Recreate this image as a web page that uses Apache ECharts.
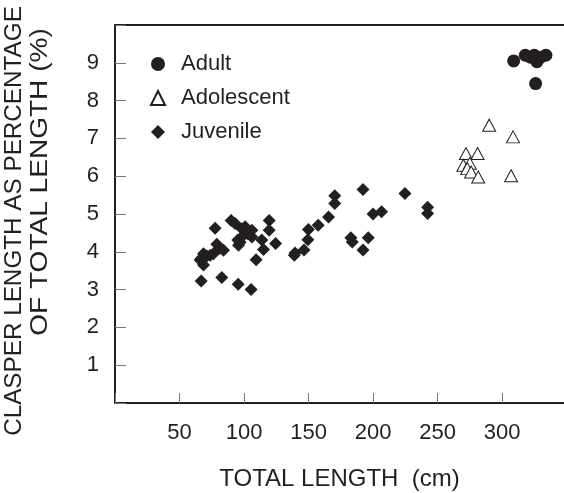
<!DOCTYPE html>
<html>
<head>
<meta charset="utf-8">
<script src="https://cdn.jsdelivr.net/npm/echarts@6/dist/echarts.min.js"></script>
<style>
  body { margin: 0; background: #fff; }
  #chart { width: 564px; height: 493px; }
</style>
</head>
<body>
<div id="chart"></div>
<script>
// total length (cm) and clasper length as % of total length
var adultLength = [309, 318, 322, 325, 327, 330, 334, 326];
var adultPct = [9.05, 9.2, 9.15, 9.2, 9.03, 9.15, 9.2, 8.45];

var adolLength = [290, 308.5, 272, 281, 270, 275, 273, 276, 281.5, 307];
var adolPct = [7.35, 7.04, 6.6, 6.6, 6.29, 6.34, 6.2, 6.11, 5.98, 6.01];

var juvLength = [66.8, 82.8, 95.5, 105.5, 66.8, 68.6, 68.6, 71.2, 73.8, 76.3, 66, 77.6, 78.9, 80.8, 84.1,
    90, 93.1, 98.3, 100.9, 103, 106.1, 95.2, 95.7, 97, 98.3, 106.1, 113.8, 109.4, 115.1, 119.5, 119.5,
    124.5, 139, 139.5, 146.5, 149.5, 149.9, 157.5, 165.5, 170.3, 170.3, 182.8, 183.9, 192.2, 192.2,
    196.3, 200, 206.6, 224.7, 242.3, 242.3];
var juvPct = [3.23, 3.32, 3.14, 3.0, 3.82, 3.65, 3.95, 3.89, 3.91, 3.95, 3.78, 4.62, 4.2, 4.09, 4.04,
    4.83, 4.75, 4.61, 4.66, 4.48, 4.57, 4.31, 4.17, 4.25, 4.39, 4.39, 4.31, 3.79, 4.06, 4.83, 4.57,
    4.22, 3.91, 3.97, 4.05, 4.32, 4.59, 4.70, 4.92, 5.48, 5.28, 4.37, 4.26, 5.65, 4.05,
    4.37, 5.0, 5.06, 5.54, 5.18, 5.01];

var xTicks = [50, 100, 150, 200, 250, 300];
var yTicks = [1, 2, 3, 4, 5, 6, 7, 8, 9];

function pairs(xs, ys) {
    return xs.map(function (x, i) { return [x, ys[i]]; });
}

var ink = '#231f20';
var font = 'Liberation Sans, Arial, sans-serif';

var chart = echarts.init(document.getElementById('chart'));

var option = {
    animation: false,
    backgroundColor: '#fff',
    textStyle: { fontFamily: font, color: ink },
    grid: { left: 115, right: 0, top: 25, bottom: 90, outerBoundsMode: 'none' },
    legend: {
        orient: 'vertical',
        left: 145,
        top: 48,
        itemWidth: 14,
        itemHeight: 14,
        itemGap: 12,
        textStyle: { fontSize: 22, color: ink, fontFamily: font, padding: [0, 0, 0, 11] },
        data: ['Adult', 'Adolescent', 'Juvenile']
    },
    xAxis: [{
        type: 'value',
        min: 0,
        max: 348,
        interval: 50,
        name: 'TOTAL LENGTH  (cm)',
        nameLocation: 'middle',
        nameGap: 64,
        nameTextStyle: { fontSize: 24, color: ink, fontFamily: font },
        axisLine: { lineStyle: { color: ink, width: 2 } },
        axisTick: { inside: true, length: 10, lineStyle: { color: '#777', width: 1 } },
        axisLabel: {
            fontSize: 22, color: ink, margin: 19, showMaxLabel: false,
            formatter: function (v) { return xTicks.indexOf(v) >= 0 ? String(v) : ''; }
        },
        splitLine: { show: false }
    }, {
        type: 'value',
        position: 'top',
        min: 0,
        max: 348,
        axisLine: { show: true, lineStyle: { color: ink, width: 2 } },
        axisTick: { show: false },
        axisLabel: { show: false },
        splitLine: { show: false }
    }],
    yAxis: {
        type: 'value',
        min: 0,
        max: 10,
        interval: 1,
        axisLine: { show: true, lineStyle: { color: ink, width: 2 } },
        axisTick: { inside: true, length: 11, lineStyle: { color: '#777', width: 1 } },
        axisLabel: {
            fontSize: 22, color: ink, margin: 16,
            formatter: function (v) { return yTicks.indexOf(v) >= 0 ? String(v) : ''; }
        },
        splitLine: { show: false }
    },
    // y axis title, two rotated lines
    graphic: [{
        type: 'text',
        x: 15,
        y: 221,
        rotation: Math.PI / 2,
        scaleX: 1.055,
        style: {
            text: 'CLASPER LENGTH AS PERCENTAGE',
            font: '23px ' + font,
            fill: ink,
            align: 'center',
            verticalAlign: 'middle'
        }
    }, {
        type: 'text',
        x: 41,
        y: 182,
        rotation: Math.PI / 2,
        scaleX: 1.22,
        style: {
            text: 'OF TOTAL LENGTH (%)',
            font: '23px ' + font,
            fill: ink,
            align: 'center',
            verticalAlign: 'middle'
        }
    }],
    series: [{
        name: 'Adult',
        type: 'scatter',
        symbol: 'circle',
        symbolSize: 13,
        itemStyle: { color: ink, opacity: 1 },
        data: pairs(adultLength, adultPct)
    }, {
        name: 'Adolescent',
        type: 'scatter',
        symbol: 'triangle',
        symbolSize: [13, 12],
        itemStyle: { color: '#fff', borderColor: ink, borderWidth: 1, opacity: 1 },
        data: pairs(adolLength, adolPct)
    }, {
        name: 'Juvenile',
        type: 'scatter',
        symbol: 'diamond',
        symbolSize: 13,
        itemStyle: { color: ink, opacity: 1 },
        data: pairs(juvLength, juvPct)
    }]
};

chart.setOption(option);
</script>
</body>
</html>
